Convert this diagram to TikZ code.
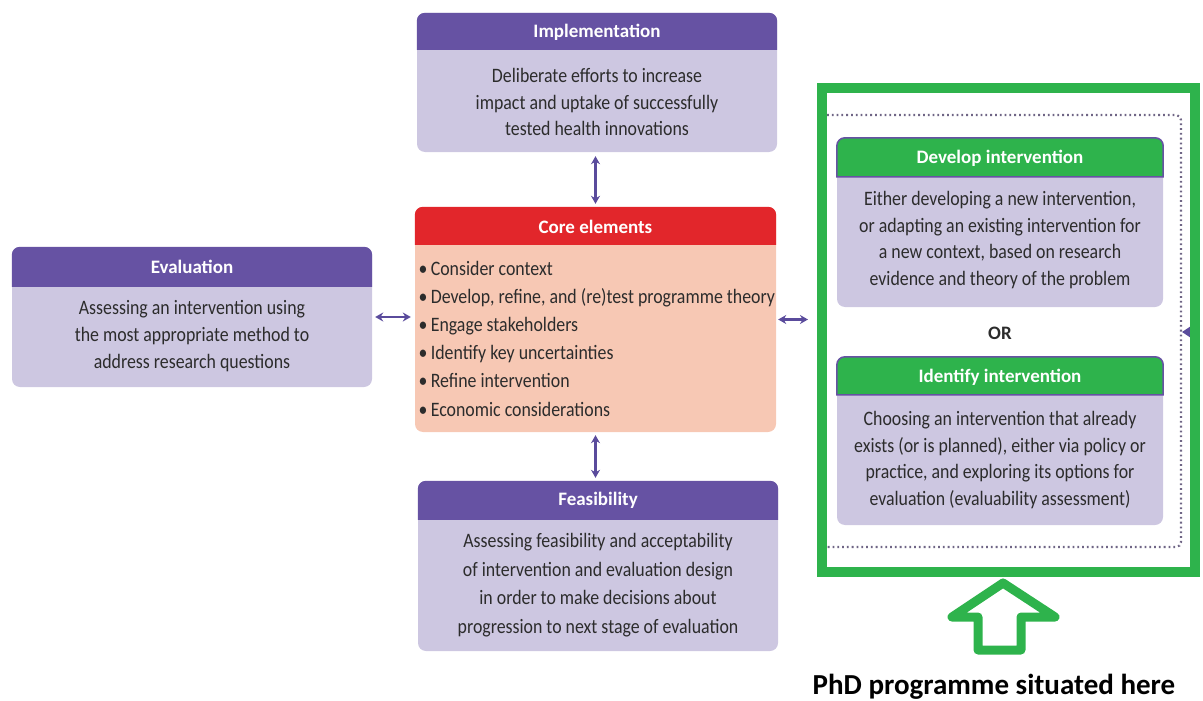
\documentclass[tikz,border=0pt]{standalone}
\usepackage{fontspec}
\setmainfont{Carlito}
\newfontfamily\bodyfont[FakeStretch=0.87]{Carlito}
\usetikzlibrary{arrows.meta}

\definecolor{hdrpurple}{HTML}{6652A3}
\definecolor{bodylav}{HTML}{CDC7E1}
\definecolor{corered}{HTML}{E2262B}
\definecolor{corebody}{HTML}{F7C8B4}
\definecolor{txtgrey}{HTML}{2C2C2C}
\definecolor{framegreen}{HTML}{2EB34C}
\definecolor{arrowpurple}{HTML}{5A4B9C}
\definecolor{dotgrey}{HTML}{6F6585}

% header band across the top of a box: node, height, colour options
\newcommand\headerband[3]{%
  \path[#3] ([yshift=-#2]#1.north west) [rounded corners=8pt] -- (#1.north west)
    -- (#1.north east) [sharp corners] -- ([yshift=-#2]#1.north east) -- cycle;}

\tikzset{
  box/.style={rectangle, rounded corners=8pt, fill=bodylav, inner sep=0pt},
  hdrtext/.style={text=white, font=\bfseries\fontsize{19}{22}\selectfont},
  bodytext/.style={text=txtgrey, align=center, font=\bodyfont\fontsize{20.5}{26.8}\selectfont},
  dbl/.style={{Stealth[length=8pt,width=9pt]}-{Stealth[length=8pt,width=9pt]},
    line width=2.6pt, arrowpurple},
}

\begin{document}
\begin{tikzpicture}[x=1pt,y=-1pt]
\useasboundingbox (0,0) rectangle (1203,701);

% --- Implementation ---
\node[box, minimum width=360pt, minimum height=139pt] (impl) at (597,82.5) {};
\headerband{impl}{37pt}{fill=hdrpurple}
\node[hdrtext] (impl-h) at (597,32) {Implementation};
\node[bodytext] (impl-t) at (597,102) {Deliberate efforts to increase\\impact and uptake of successfully\\tested health innovations};

% --- Evaluation ---
\node[box, minimum width=360pt, minimum height=140pt] (eval) at (192,317) {};
\headerband{eval}{40pt}{fill=hdrpurple}
\node[hdrtext] (eval-h) at (192,267) {Evaluation};
\node[bodytext] (eval-t) at (192,336) {Assessing an intervention using\\the most appropriate method to\\address research questions};

% --- Core elements ---
\node[box, fill=corebody, minimum width=361pt, minimum height=225pt] (core) at (595.5,319.5) {};
\headerband{core}{38pt}{fill=corered}
\node[hdrtext] (core-h) at (595.5,227) {Core elements};
\node[text=txtgrey, align=left, anchor=west, font=\bodyfont\fontsize{20.5}{28.2}\selectfont] (core-t) at (415,338.5)
  {\textbullet\,Consider context\\
   \textbullet\,Develop, refine, and (re)test programme theory\\
   \textbullet\,Engage stakeholders\\
   \textbullet\,Identify key uncertainties\\
   \textbullet\,Refine intervention\\
   \textbullet\,Economic considerations};

% --- Feasibility ---
\node[box, minimum width=360pt, minimum height=170pt] (feas) at (598,566) {};
\headerband{feas}{39pt}{fill=hdrpurple}
\node[hdrtext] (feas-h) at (598,500) {Feasibility};
\node[bodytext, font=\bodyfont\fontsize{20.5}{28.5}\selectfont] (feas-t) at (598,585) {Assessing feasibility and acceptability\\of intervention and evaluation design\\in order to make decisions about\\progression to next stage of evaluation};

% --- dotted loop on the right ---
\draw[dotgrey, line width=2.2pt, dash pattern=on 1.8pt off 3pt, rounded corners=5pt]
  (827,115) -- (1181,115) -- (1181,547) -- (827,547);
\fill[arrowpurple] (1182,332) -- (1191,326) -- (1191,338) -- cycle;

% --- Develop intervention ---
\node[box, minimum width=326pt, minimum height=169pt] (dev) at (1000,222.5) {};
\headerband{dev}{39pt}{fill=framegreen, draw=hdrpurple, line width=1.5pt}
\node[hdrtext] (dev-h) at (1000,158) {Develop intervention};
\node[bodytext] (dev-t) at (1000,240) {Either developing a new intervention,\\or adapting an existing intervention for\\a new context, based on research\\evidence and theory of the problem};

\node[text=txtgrey, font=\bfseries\fontsize{19}{22}\selectfont] (or) at (1000,333) {OR};

% --- Identify intervention ---
\node[box, minimum width=326pt, minimum height=168pt] (ident) at (1000,441) {};
\headerband{ident}{38pt}{fill=framegreen, draw=hdrpurple, line width=1.5pt}
\node[hdrtext] (ident-h) at (1000,377) {Identify intervention};
\node[bodytext] (ident-t) at (1000,460) {Choosing an intervention that already\\exists (or is planned), either via policy or\\practice, and exploring its options for\\evaluation (evaluability assessment)};

% --- green frame ---
\node[draw=framegreen, line width=10pt, minimum width=373pt, minimum height=484pt, inner sep=0pt] (phd) at (1008.5,330) {};

% --- connectors ---
\draw[dbl, shorten <=3pt, shorten >=4pt] (core.north) -- (core.north |- impl.south);
\draw[dbl, shorten <=3pt, shorten >=3pt] (core.south) -- (core.south |- feas.north);
\draw[dbl, shorten <=3pt, shorten >=4pt] (eval.east) -- (eval.east -| core.west);
\draw[dbl, shorten <=2pt, shorten >=9pt] (core.east) -- (core.east -| phd.west);

% --- green pointer arrow and caption ---
\draw[framegreen, line width=9pt, line join=round]
  (1003,583) -- (1055,617) -- (1021,617) -- (1021,650) -- (978,650) -- (978,617) -- (952,617) -- cycle;
\node[text=black, font=\bfseries\fontsize{29}{32}\selectfont] (cap) at (994,687) {PhD programme situated here};
\end{tikzpicture}
\end{document}
